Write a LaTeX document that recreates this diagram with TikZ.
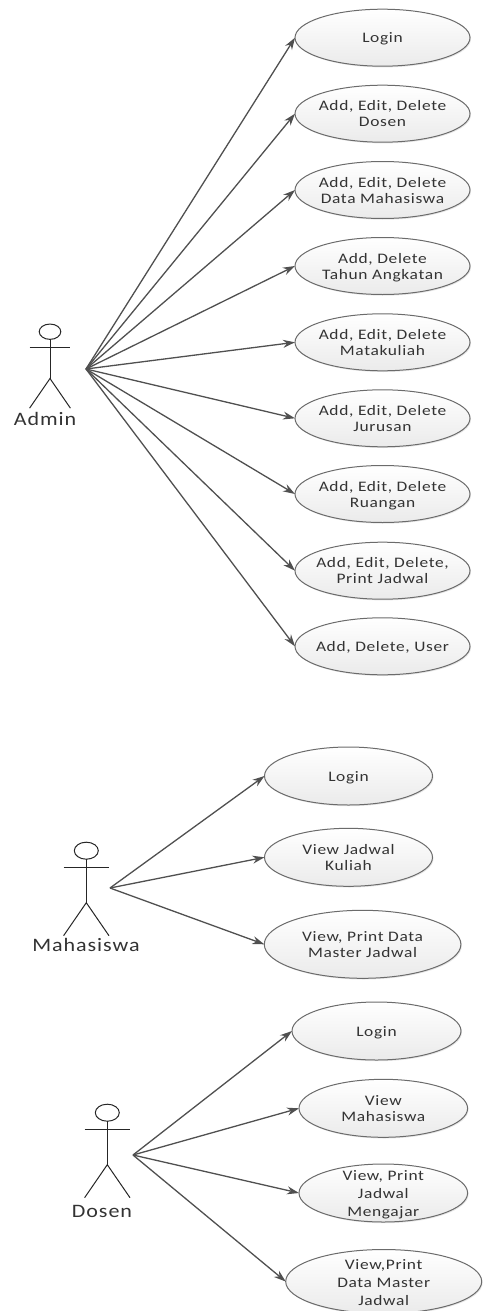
\documentclass[tikz,border=0pt]{standalone}
\usepackage{fontspec}
\usetikzlibrary{shapes.geometric,arrows.meta,shadows}
\newfontfamily\ucfont[LetterSpace=4.5,FakeStretch=1.2]{Carlito}
\newfontfamily\actfont[LetterSpace=5,FakeStretch=1.16]{Carlito}
\newcommand\uctext[2][16pt]{\makebox[0pt]{\smash{\raisebox{-5.5pt}{\ucfont\fontsize{14.5}{#1}\selectfont\begin{tabular}{@{}c@{}}#2\end{tabular}}}}}
\definecolor{ink}{HTML}{333333}
\definecolor{wire}{HTML}{505050}
\tikzset{
  x=1pt,y=-1pt,
  usecase/.style={ellipse,draw=black!58,line width=1pt,inner sep=0pt,outer sep=0pt,
    minimum width=2*#1,top color=white,bottom color=black!8,text=ink,
    drop shadow={opacity=.2,shadow xshift=1pt,shadow yshift=-1.2pt}},
  usecase/.default=87.5pt,
  ry/.style={minimum height=2*#1},
  assoc/.style={-{Stealth[length=12pt,width=8pt]},draw=wire,line width=1.3pt},
  figure line/.style={draw=black!85,line width=1pt},
  actorname/.style={inner sep=0pt,text=ink,font=\actfont\fontsize{19}{20}\selectfont},
  stick/.pic={
    \draw[figure line] (0,0) ellipse [x radius=12,y radius=8.5];
    \draw[figure line] (0,8.5) -- (0,52);
    \draw[figure line] (-22.7,17) -- (22.7,17);
    \draw[figure line] (-22.7,85) -- (0,52) -- (22.7,85);
  }
}
\begin{document}
\begin{tikzpicture}
\useasboundingbox (0,0) rectangle (483,1311);
% Admin
\pic[scale=.9] at (50,331.7) {stick};
\node[actorname] (admin) at (45,418.7) {Admin};
\coordinate (h1) at (86,369);
\node[usecase,ry=28.5pt] (a1) at (382.5,37.7) {\uctext{Login}};
\node[usecase,ry=28.5pt] (a2) at (382.5,113.7) {\uctext{Add, Edit, Delete\\Dosen}};
\node[usecase,ry=28.5pt] (a3) at (382.5,190) {\uctext{Add, Edit, Delete\\Data Mahasiswa}};
\node[usecase,ry=28.5pt] (a4) at (382.5,266) {\uctext{Add, Delete\\Tahun Angkatan}};
\node[usecase,ry=28.5pt] (a5) at (382.5,342.3) {\uctext{Add, Edit, Delete\\Matakuliah}};
\node[usecase,ry=28.5pt] (a6) at (382.5,418.3) {\uctext{Add, Edit, Delete\\Jurusan}};
\node[usecase,ry=28.5pt] (a7) at (382.5,494) {\uctext{Add, Edit, Delete\\Ruangan}};
\node[usecase,ry=28.5pt] (a8) at (382.5,570.7) {\uctext{Add, Edit, Delete,\\Print Jadwal}};
\node[usecase,ry=28.5pt] (a9) at (382.5,646.3) {\uctext{Add, Delete, User}};
\foreach \n in {a1,a2,a3,a4,a5,a6,a7,a8,a9} \draw[assoc] (h1) -- (\n.west);
% Mahasiswa
\pic at (86.3,850.7) {stick};
\node[actorname] (mhs) at (86,945) {Mahasiswa};
\coordinate (h2) at (110,888);
\node[usecase=84pt,ry=29pt] (m1) at (348.5,776) {\uctext{Login}};
\node[usecase=84pt,ry=29pt] (m2) at (348.5,857.3) {\uctext{View Jadwal\\Kuliah}};
\node[usecase=98.3pt,ry=34pt] (m3) at (362.6,944.3) {\uctext{View, Print Data\\Master Jadwal}};
\foreach \n in {m1,m2,m3} \draw[assoc] (h2) -- (\n.west);
% Dosen
\pic at (107.3,1112.7) {stick};
\node[actorname] (dsn) at (102,1211) {Dosen};
\coordinate (h3) at (133,1155);
\node[usecase=84.5pt,ry=29pt] (d1) at (376.5,1031) {\uctext{Login}};
\node[usecase=84.3pt,ry=29pt] (d2) at (383.3,1108.3) {\uctext{View\\Mahasiswa}};
\node[usecase=84.3pt,ry=29pt] (d3) at (383.3,1193) {\uctext[18pt]{View, Print\\Jadwal\\Mengajar}};
\node[usecase=98pt,ry=32pt] (d4) at (383.7,1281.5) {\uctext[18pt]{View,Print\\Data Master\\Jadwal}};
\foreach \n in {d1,d2,d3,d4} \draw[assoc] (h3) -- (\n.west);
\end{tikzpicture}
\end{document}
